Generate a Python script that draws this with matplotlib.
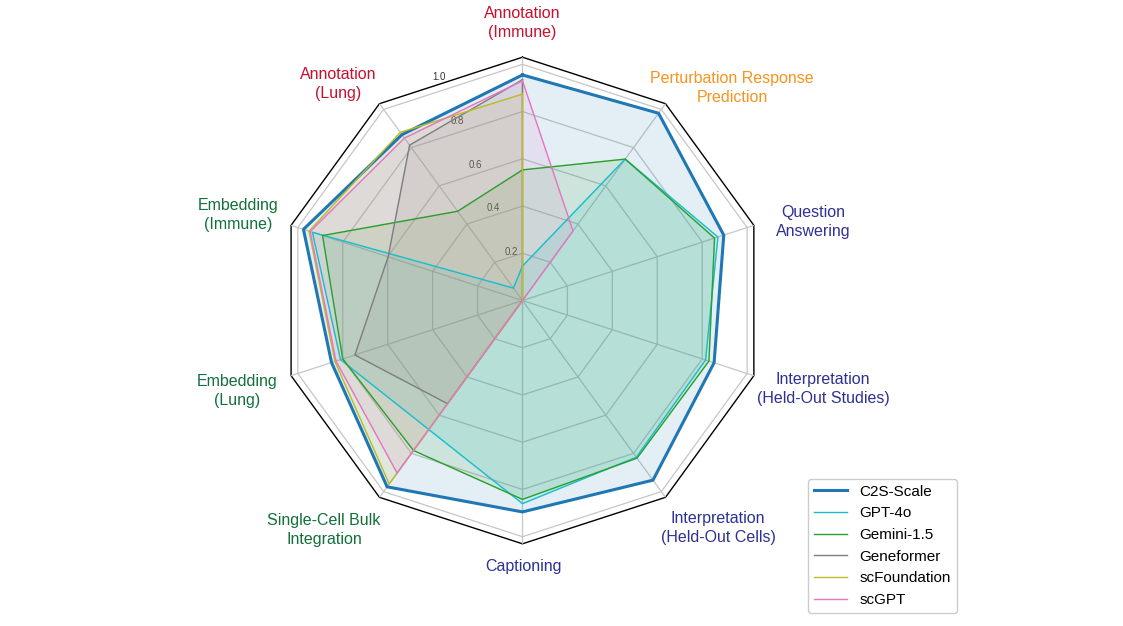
import numpy as np
import matplotlib.pyplot as plt

# axes go counter-clockwise from the top
categories = ['Annotation\n(Immune)', 'Annotation\n(Lung)', 'Embedding\n(Immune)',
              'Embedding\n(Lung)', 'Single-Cell Bulk\nIntegration', 'Captioning',
              'Interpretation\n(Held-Out Cells)', 'Interpretation\n(Held-Out Studies)',
              'Question\nAnswering', 'Perturbation Response\nPrediction']
label_colors = ['#c8102e', '#c8102e', '#13703a', '#13703a', '#13703a',
                '#2e3192', '#2e3192', '#2e3192', '#2e3192', '#f7941d']

c2s_scale = [0.955, 0.868, 0.975, 0.850, 0.975, 0.895, 0.940, 0.853, 0.896, 0.980]
gpt_4o = [0.146, 0.065, 0.935, 0.810, 0.675, 0.860, 0.820, 0.815, 0.870, 0.740]
gemini_15 = [0.553, 0.467, 0.890, 0.800, 0.785, 0.842, 0.825, 0.830, 0.855, 0.740]
geneformer = [0.935, 0.813, 0.598, 0.746, 0.540, 0, 0, 0, 0, 0]
scfoundation = [0.874, 0.880, 0.950, 0.835, 0.960, 0, 0, 0, 0, 0]
scgpt = [0.930, 0.850, 0.945, 0.830, 0.903, 0, 0, 0, 0, 0.364]

series = [
    ('C2S-Scale', c2s_scale, '#1f77b4', 2.2),
    ('GPT-4o', gpt_4o, '#17becf', 1.0),
    ('Gemini-1.5', gemini_15, '#2ca02c', 1.0),
    ('Geneformer', geneformer, '#7f7f7f', 1.0),
    ('scFoundation', scfoundation, '#bcbd22', 1.0),
    ('scGPT', scgpt, '#e377c2', 1.0),
]

rings = [0.2, 0.4, 0.6, 0.8, 1.0]
rmax = 1.03

# label centres in pixels (figure is 1123 x 626)
label_pos = [(522, 23), (338, 84), (238, 215), (237, 391), (324, 530),
             (523, 567), (718, 528), (823, 389), (813, 222), (732, 88)]

N = len(categories)
angles = np.linspace(0, 2 * np.pi, N, endpoint=False)
closed = np.concatenate([angles, angles[:1]])

plt.rcParams['font.family'] = ['Liberation Sans', 'DejaVu Sans']
W, H = 1123, 626
fig = plt.figure(figsize=(W / 100, H / 100), dpi=100)
ax = fig.add_axes([0.2486, 0.1313, 0.4333, 0.7773], projection='polar')
ax.set_theta_offset(np.pi / 2)
ax.set_ylim(0, rmax)
ax.spines['polar'].set_visible(False)
ax.patch.set_visible(False)

ax.yaxis.grid(False)
ax.xaxis.grid(True, color='#c6c6c6', lw=0.9)
ax.set_xticks(angles)
ax.set_xticklabels([])
ax.tick_params(axis='x', length=0)
ax.set_yticks(rings)
ax.set_yticklabels([f'{r:.1f}' for r in rings], fontsize=7, color='#333333')
ax.set_rlabel_position(22.5)

# polygon grid + black frame
for r in rings:
    ax.plot(closed, [r] * (N + 1), color='#c6c6c6', lw=0.9, zorder=1)
ax.plot(closed, [rmax] * (N + 1), color='black', lw=1.0, zorder=1, clip_on=False)

for name, vals, color, lw in series:
    v = list(vals) + [vals[0]]
    ax.fill(closed, v, color=color, alpha=0.12, zorder=2)
    ax.plot(closed, v, color=color, lw=lw, label=name, zorder=3)

for lab, col, (px, py) in zip(categories, label_colors, label_pos):
    fig.text(px / W, 1 - py / H, lab, color=col, fontsize=11.5,
             ha='center', va='center', multialignment='center', linespacing=1.3)

fig.legend(loc='lower right', bbox_to_anchor=(957 / W, 1 - 613 / H),
           borderaxespad=0, fontsize=11, handlelength=2.2, framealpha=1,
           edgecolor='#cccccc')

fig.savefig('out.png', dpi=100)
